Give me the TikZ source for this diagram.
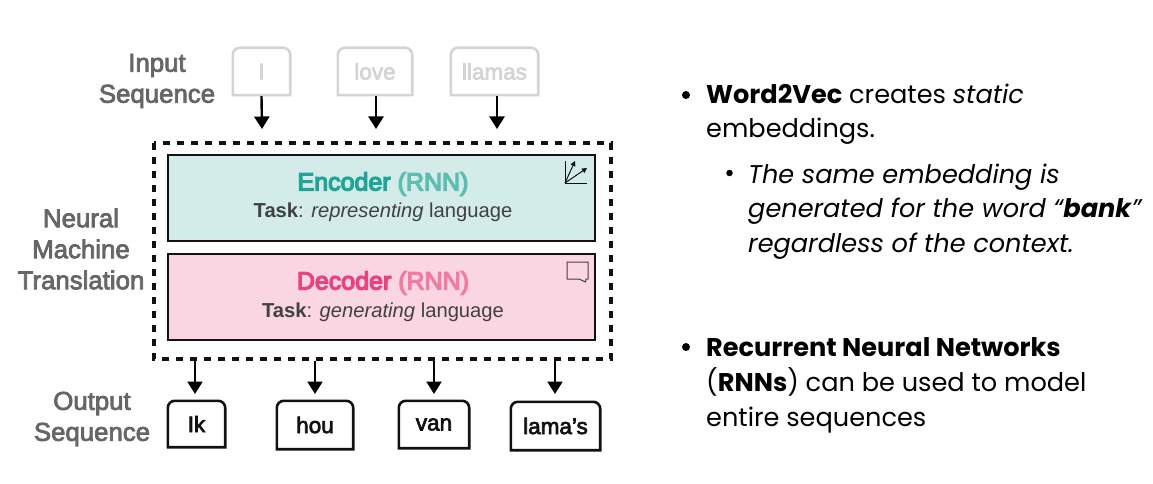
\documentclass[tikz,border=0pt]{standalone}
\usepackage{fontspec}
\setmainfont{Poppins}
\newfontfamily\lab{Liberation Sans}
\newfontfamily\labm[FakeBold=3]{Liberation Sans}
\newfontfamily\labh[FakeBold=5]{Liberation Sans}
\definecolor{greyl}{HTML}{666666}
\definecolor{greyb}{HTML}{D4D4D4}
\definecolor{encfill}{HTML}{D3EBE9}
\definecolor{decfill}{HTML}{F9D6E2}
\definecolor{teal1}{HTML}{1FA595}
\definecolor{teal2}{HTML}{5DBDB0}
\definecolor{pink1}{HTML}{E8437F}
\definecolor{pink2}{HTML}{F07CA6}
\definecolor{ink}{HTML}{111111}
\usetikzlibrary{arrows.meta}
\tikzset{
 x=1pt,y=-1pt,
 sidelabel/.style={font=\labm\fontsize{25.8}{31}\selectfont,text=greyl,align=center,inner sep=0pt},
 wordin/.style={font=\labm\fontsize{22.5}{25}\selectfont,text=greyb,inner sep=0pt},
 wordout/.style={font=\labm\fontsize{22.5}{25}\selectfont,text=ink,inner sep=0pt},
 flow/.style={line width=2.4pt,-{Triangle[length=12.5pt,width=15pt]},draw=black},
 bigbox/.style={draw=ink,line width=2.6pt,inner sep=0pt,minimum width=427pt,minimum height=86pt},
 frame/.style={draw=ink,line width=3.6pt,dash pattern=on 7pt off 7pt},
 bodytxt/.style={font=\fontsize{25.6}{35}\selectfont,anchor=base west,inner sep=0pt,text=black},
 heading/.style={inner sep=0pt,font=\labh\fontsize{25}{30}\selectfont},
 tasktxt/.style={inner sep=0pt,font=\lab\fontsize{20.2}{24}\selectfont,text=ink!80},
 dotb/.style={circle,fill=black,inner sep=0pt},
}
% name, x1, y1, x2, y2, word style, outline colour, text
\newcommand{\wordbox}[8]{%
 \node[#6,minimum width=#4pt-#2pt,minimum height=#5pt-#3pt] (#1) at ({(#2+#4)/2},{(#3+#5)/2}) {#8};
 \draw[#7,line width=2.6pt,rounded corners=7pt] (#1.south west) -- (#1.north west) -- (#1.north east) [sharp corners] -- (#1.south east) -- cycle;
}
\newcommand{\lowr}[1]{\raisebox{-2pt}{#1}}
\begin{document}
\begin{tikzpicture}
\useasboundingbox (0,0) rectangle (1153,484);
% side labels
\node[sidelabel] (inlab) at (157,81) {Input\\Sequence};
\node[sidelabel] (nmt) at (81,249) {Neural\\Machine\\Translation};
\node[sidelabel] (outlab) at (92,419) {Output\\Sequence};
% input words
\wordbox{w1}{233}{48}{290}{95}{wordin}{greyb}{I}
\wordbox{w2}{338}{48}{412}{95}{wordin}{greyb}{love}
\wordbox{w3}{451}{48}{538}{95}{wordin}{greyb}{llamas}
% frame
\coordinate (fnw) at (154,143); \coordinate (fse) at (611,359);
\draw[frame] (fnw) rectangle (fse);
% encoder / decoder
\node[bigbox,fill=encfill] (enc) at (381.5,198) {};
\node[bigbox,fill=decfill] (dec) at (381.5,297) {};
\node[heading] (enct) at (383,184) {\textcolor{teal1}{Encoder} \textcolor{teal2}{(RNN)}};
\node[tasktxt] (encs) at (383,212) {\textbf{Task}: \textit{representing} language};
\node[heading] (dect) at (383,283) {\textcolor{pink1}{Decoder} \textcolor{pink2}{(RNN)}};
\node[tasktxt] (decs) at (383,312) {\textbf{Task}: \textit{generating} language};
% icons
\coordinate (ax) at (565,183);
\draw[line width=1pt,draw=ink] (565,161) -- (ax) -- (587,183);
\draw[line width=1pt,draw=ink,-{Triangle[length=5pt,width=5pt]}] (ax) -- (575,161);
\draw[line width=1pt,draw=ink,-{Triangle[length=5pt,width=5pt]}] (ax) -- (587,168);
\draw[line width=1pt,draw=ink!80,line join=round] (567,262) -- (588,262) -- (588,279) -- (586,279) -- (585.5,282) -- (579,279) -- (567,279) -- cycle;
% output words
\wordbox{o1}{168}{401}{225}{447}{wordout}{ink}{\lowr{Ik}}
\wordbox{o2}{277}{401}{353}{449}{wordout}{ink}{\lowr{hou}}
\wordbox{o3}{399}{401}{469}{448}{wordout}{ink}{\lowr{van}}
\wordbox{o4}{511}{402}{600}{450}{wordout}{ink}{\lowr{lama’s}}
% connectors
\coordinate (i1) at (262,129); \coordinate (i2) at (376,129); \coordinate (i3) at (497,129);
\draw[flow] (w1.south) ++(0,1) -- (i1);
\draw[flow] (w2.south) ++(1,1) -- (i2);
\draw[flow] (w3.south) ++(2.5,1) -- (i3);
\coordinate (s1) at (195,361); \coordinate (s2) at (315,361); \coordinate (s3) at (434,361); \coordinate (s4) at (555,361);
\draw[flow] (s1) -- (195,394);
\draw[flow] (s2) -- (315,394);
\draw[flow] (s3) -- (434,394);
\draw[flow] (s4) -- (555,394);
% right column
\node[dotb,minimum size=8pt] (d1) at (686,95) {};
\node[bodytxt] (t1) at (706,104) {\textbf{Word2Vec} creates \textit{static}};
\node[bodytxt] (t2) at (706,138) {embeddings.};
\node[dotb,minimum size=6.5pt] (d2) at (729.5,173) {};
\node[bodytxt] (t3) at (748,183) {\textit{The same embedding is}};
\node[bodytxt] (t4) at (748,217) {\textit{generated for the word “\textbf{bank}”}};
\node[bodytxt] (t5) at (748,252) {\textit{regardless of the context.}};
\node[dotb,minimum size=8pt] (d3) at (686,347) {};
\node[bodytxt] (t6) at (706,356) {\textbf{Recurrent Neural Networks}};
\node[bodytxt] (t7) at (706,391) {(\textbf{RNNs}) can be used to model};
\node[bodytxt] (t8) at (706,426) {entire sequences};
\end{tikzpicture}
\end{document}
